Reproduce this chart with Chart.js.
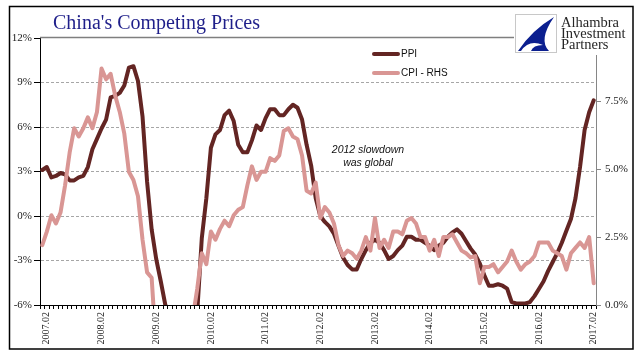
<!DOCTYPE html>
<html>
<head>
<meta charset="utf-8">
<script src="https://cdn.jsdelivr.net/npm/chart.js@4.4.1/dist/chart.umd.min.js"></script>
<style>
  html, body { margin: 0; padding: 0; background: #fff; }
  #wrap { width: 641px; height: 361px; }
</style>
</head>
<body>
<div id="wrap"><canvas id="chart" width="641" height="361"></canvas></div>
<script>
// monthly categories, 2007.01 .. 2017.02 (only the .02 ones get a label)
const months = [];
for (let y = 2007; y <= 2017; y++) {
  for (let m = 1; m <= 12; m++) {
    if (y === 2017 && m > 2) break;
    months.push(y + '.' + String(m).padStart(2, '0'));
  }
}

// PPI, y/y %, left axis
const ppi = [
  3.1, 3.3, 2.6, 2.7, 2.9, 2.8, 2.4, 2.4, 2.6, 2.7, 3.3, 4.5,
  5.2, 5.9, 6.5, 8.0, 8.1, 8.3, 8.8, 10.0, 10.1, 9.1, 6.7, 2.3,
  -0.9, -2.9, -4.4, -6.0, -6.6, -7.2, -7.8, -8.2, -7.9, -7.0, -6.5, -1.5,
  1.2, 4.6, 5.5, 5.8, 6.8, 7.1, 6.4, 4.8, 4.3, 4.3, 5.1, 6.1,
  5.8, 6.6, 7.2, 7.2, 6.8, 6.8, 7.2, 7.5, 7.3, 6.5, 4.8, 3.4,
  1.2, 0.0, -0.4, -0.7, -1.2, -2.0, -2.8, -3.3, -3.6, -3.6, -2.9, -2.3,
  -1.8, -1.6, -1.8, -2.3, -2.9, -2.7, -2.3, -2.0, -1.4, -1.4, -1.6, -1.6,
  -1.8, -2.0, -2.3, -2.0, -1.8, -1.4, -1.1, -0.9, -1.2, -1.7, -2.2, -2.6,
  -3.2, -4.0, -4.7, -4.7, -4.6, -4.7, -4.9, -5.8, -5.9, -5.9, -5.9, -5.8,
  -5.4, -4.9, -4.4, -3.7, -3.1, -2.5, -1.8, -1.0, -0.2, 1.2, 3.3, 5.8,
  7.0, 7.8
];

// CPI, y/y %, right axis
const cpi = [
  2.2, 2.7, 3.3, 3.0, 3.4, 4.4, 5.6, 6.5, 6.2, 6.5, 6.9, 6.5,
  7.1, 8.7, 8.3, 8.5, 7.7, 7.1, 6.3, 4.9, 4.6, 4.0, 2.4, 1.2,
  1.0, -1.6, -1.2, -1.5, -1.4, -1.7, -1.8, -1.2, -0.8, -0.5, 0.6, 1.9,
  1.5, 2.7, 2.4, 2.8, 3.1, 2.9, 3.3, 3.5, 3.6, 4.4, 5.1, 4.6,
  4.9, 4.9, 5.4, 5.3, 5.5, 6.4, 6.5, 6.2, 6.1, 5.5, 4.2, 4.1,
  4.5, 3.2, 3.6, 3.4, 3.0, 2.2, 1.8, 2.0, 1.9, 1.7, 2.0, 2.5,
  2.0, 3.2, 2.1, 2.4, 2.1, 2.7, 2.7, 2.6, 3.1, 3.2, 3.0, 2.5,
  2.5, 2.0, 2.4, 1.8, 2.5, 2.5, 2.6, 2.3, 2.0, 1.9, 1.75, 1.8,
  0.8, 1.4, 1.4, 1.5, 1.2, 1.4, 1.6, 2.0, 1.6, 1.3, 1.5, 1.6,
  1.8, 2.3, 2.3, 2.3, 2.0, 1.9, 1.8, 1.3, 1.9, 2.1, 2.3, 2.1,
  2.5, 0.8
];

const leftGridAt = [9, 6, 3, 0, -3];
const rightTicks = [0, 2.5, 5, 7.5];

const serif = "'Liberation Serif', 'Times New Roman', serif";
const sans = "'Liberation Sans', Arial, sans-serif";

// title, logo, legend, note and the outer frame
const decor = {
  id: 'decor',
  beforeDraw(chart) {
    const ctx = chart.ctx;
    ctx.save();
    ctx.fillStyle = '#fff';
    ctx.fillRect(0, 0, chart.width, chart.height);
    ctx.restore();
  },
  afterDraw(chart) {
    const ctx = chart.ctx;
    const area = chart.chartArea;
    ctx.save();

    // header rule
    ctx.strokeStyle = '#7f7f7f';
    ctx.lineWidth = 1.5;
    ctx.beginPath();
    ctx.moveTo(area.left, area.top - 0.5);
    ctx.lineTo(515, area.top - 0.5);
    ctx.stroke();

    // title
    ctx.fillStyle = '#1f1f8a';
    ctx.font = '20px ' + serif;
    ctx.textBaseline = 'alphabetic';
    ctx.textAlign = 'left';
    ctx.fillText("China's Competing Prices", 53, 29);

    // logo
    ctx.fillStyle = '#fff';
    ctx.fillRect(514, 12, 118, 43);
    ctx.strokeStyle = '#c8c8c8';
    ctx.lineWidth = 1;
    ctx.strokeRect(515.5, 14.5, 41, 38);
    ctx.fillStyle = '#0b1f8f';
    ctx.beginPath();
    ctx.moveTo(554, 17);
    ctx.quadraticCurveTo(532, 30, 518, 51);
    ctx.lineTo(549, 51);
    ctx.quadraticCurveTo(538, 40, 554, 17);
    ctx.fill();
    ctx.fillStyle = '#fff';
    ctx.beginPath();
    ctx.moveTo(521, 51);
    ctx.quadraticCurveTo(529, 39, 543, 45);
    ctx.quadraticCurveTo(533, 45, 531, 51);
    ctx.fill();
    ctx.fillStyle = '#262626';
    ctx.font = '14.5px ' + serif;
    ctx.fillText('Alhambra', 561, 27);
    ctx.fillText('Investment', 561, 38);
    ctx.fillText('Partners', 561, 49);

    // legend
    ctx.font = '10px ' + sans;
    ctx.textBaseline = 'middle';
    chart.data.datasets.forEach((ds, i) => {
      const y = 54 + i * 19;
      ctx.strokeStyle = ds.borderColor;
      ctx.lineWidth = 4;
      ctx.lineCap = 'round';
      ctx.beginPath();
      ctx.moveTo(374, y);
      ctx.lineTo(398, y);
      ctx.stroke();
      ctx.fillStyle = '#111';
      ctx.fillText(ds.label, 401, y);
    });

    // note
    ctx.font = 'italic 10.5px ' + sans;
    ctx.textAlign = 'center';
    ctx.fillStyle = '#111';
    ctx.fillText('2012 slowdown', 368, 150);
    ctx.fillText('was global', 368, 163);

    // frame
    ctx.strokeStyle = '#000';
    ctx.lineWidth = 1.5;
    ctx.strokeRect(9.5, 6.5, 623.5, 342.5);
    ctx.restore();
  }
};

new Chart(document.getElementById('chart'), {
  type: 'line',
  data: {
    labels: months,
    datasets: [
      { label: 'PPI', data: ppi, yAxisID: 'y', borderColor: '#632523', borderWidth: 4, clip: 0, order: 1 },
      { label: 'CPI - RHS', data: cpi, yAxisID: 'y1', borderColor: '#d99694', borderWidth: 4, clip: 0, order: 0 }
    ]
  },
  options: {
    responsive: false,
    animation: false,
    layout: { padding: { top: 38 } },
    elements: {
      point: { radius: 0 },
      line: { tension: 0, borderJoinStyle: 'round', borderCapStyle: 'round' }
    },
    plugins: { legend: { display: false }, tooltip: { enabled: false } },
    scales: {
      x: {
        offset: true,
        grid: { offset: true, drawOnChartArea: false, tickLength: 4, tickColor: '#000' },
        border: { color: '#000', width: 1 },
        ticks: {
          autoSkip: false, minRotation: 90, maxRotation: 90, padding: 3,
          color: '#222', font: { family: serif, size: 10 },
          callback(v) {
            const l = this.getLabelForValue(v);
            return l.endsWith('.02') ? l : '';
          }
        },
        afterFit(s) { s.height = 56; }
      },
      y: {
        position: 'left',
        min: -6, max: 12,
        ticks: {
          stepSize: 3, padding: 2, color: '#222',
          font: { family: serif, size: 11 },
          callback: v => v + '%'
        },
        grid: {
          tickLength: 6, tickColor: '#000', lineWidth: 1,
          color: c => leftGridAt.includes(c.tick.value) ? '#a6a6a6' : 'rgba(0,0,0,0)'
        },
        border: { color: '#000', width: 1, dash: [3, 2] },
        afterFit(s) { s.width = 40; }
      },
      y1: {
        position: 'right',
        min: 0, max: 9.82,
        afterBuildTicks(s) { s.ticks = rightTicks.map(v => ({ value: v })); },
        ticks: {
          padding: 4, color: '#222',
          font: { family: serif, size: 11 },
          callback: v => v.toFixed(1) + '%'
        },
        grid: { drawOnChartArea: false, tickLength: 5, tickColor: '#868686' },
        border: { color: '#868686', width: 1 },
        afterFit(s) { s.width = 45; }
      }
    }
  },
  plugins: [decor]
});
</script>
</body>
</html>
